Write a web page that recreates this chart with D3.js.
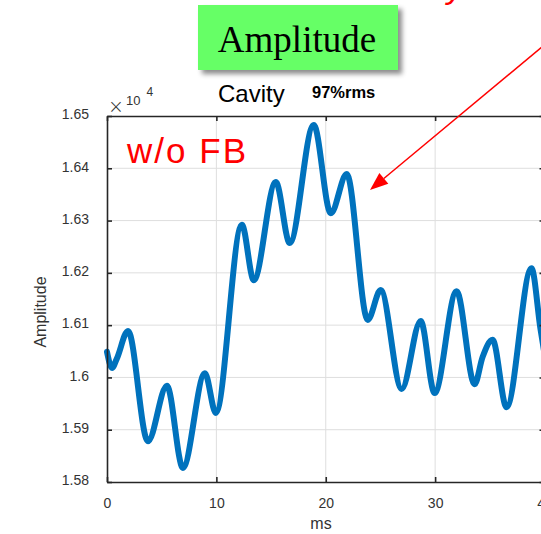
<!DOCTYPE html>
<html>
<head>
<meta charset="utf-8">
<script src="https://cdn.jsdelivr.net/npm/d3@7.9.0/dist/d3.min.js"></script>
<style>
  body { margin: 0; background: #fff; }
  svg { display: block; }
</style>
</head>
<body>
<div id="chart"></div>
<script>
// cavity amplitude trace, w/o feedback
const timeMs = [0, 0.46, 0.9, 1.92, 3.74, 5.48, 6.94, 8.95, 9.95, 12.33, 13.42, 15.43, 16.71,
  18.9, 20.46, 21.92, 23.84, 25.02, 26.94, 28.68, 29.95, 31.96, 33.61, 34.34, 35.25,
  36.53, 38.81, 39.63, 40];
const amplitude = [16049, 16018, 16036, 16089, 15878, 15984, 15827, 16008, 15932, 16292, 16186,
  16374, 16257, 16483, 16314, 16389, 16110, 16167, 15978, 16108, 15970, 16165, 15987,
  16039, 16072, 15943, 16209, 16093, 16045];

const xTicks = [0, 10, 20, 30, 40];
const yTicks = [15800, 15900, 16000, 16100, 16200, 16300, 16400, 16500];

const W = 541, H = 534;
const plot = { left: 107, right: 544.5, top: 116, bottom: 482 };
const axisColor = "#262626";

const svg = d3.select("#chart").append("svg")
  .attr("width", W)
  .attr("height", H);

const defs = svg.append("defs");
const shadow = defs.append("filter").attr("id", "shadow")
  .attr("x", "-10%").attr("y", "-10%").attr("width", "130%").attr("height", "140%");
shadow.append("feDropShadow")
  .attr("dx", 4).attr("dy", 4).attr("stdDeviation", 2.5)
  .attr("flood-color", "#000").attr("flood-opacity", 0.45);

const x = d3.scaleLinear().domain([0, 40]).range([plot.left, plot.right]);
const y = d3.scaleLinear().domain([15800, 16500]).range([plot.bottom, plot.top]);

// grid
const grid = svg.append("g").attr("class", "grid")
  .attr("stroke", "#dedede").attr("stroke-width", 1);
grid.selectAll("line.gx")
  .data(xTicks.slice(1, -1))
  .join("line")
    .attr("class", "gx")
    .attr("x1", d => x(d)).attr("x2", d => x(d))
    .attr("y1", plot.top).attr("y2", plot.bottom);
grid.selectAll("line.gy")
  .data(yTicks.slice(1, -1))
  .join("line")
    .attr("class", "gy")
    .attr("x1", plot.left).attr("x2", plot.right)
    .attr("y1", d => y(d)).attr("y2", d => y(d));

// trace
const line = d3.line()
  .x((d, i) => x(timeMs[i]))
  .y(d => y(d))
  .curve(d3.curveMonotoneX);

svg.append("path")
  .datum(amplitude)
  .attr("fill", "none")
  .attr("stroke", "#0072BD")
  .attr("stroke-width", 6)
  .attr("stroke-linejoin", "round")
  .attr("stroke-linecap", "round")
  .attr("d", line);

// axes (MATLAB-like box with inward ticks)
const fmtY = v => String(+(v / 1e4).toFixed(2));

const yAxisL = d3.axisLeft(y).tickValues(yTicks).tickSizeInner(-5).tickSizeOuter(0)
  .tickFormat(fmtY).tickPadding(18);
const yAxisR = d3.axisRight(y).tickValues(yTicks).tickSizeInner(-5).tickSizeOuter(0)
  .tickFormat("");
const xAxisB = d3.axisBottom(x).tickValues(xTicks).tickSizeInner(-5).tickSizeOuter(0)
  .tickPadding(16);
const xAxisT = d3.axisTop(x).tickValues(xTicks).tickSizeInner(-5).tickSizeOuter(0)
  .tickFormat("");

function styleAxis(g) {
  g.select(".domain").attr("stroke", axisColor).attr("stroke-width", 1.6);
  g.selectAll(".tick line").attr("stroke", axisColor).attr("stroke-width", 1.6);
  g.selectAll(".tick text")
    .attr("fill", "#333")
    .attr("font-family", "'Liberation Sans', Arial, sans-serif")
    .attr("font-size", 14);
}

svg.append("g").attr("transform", `translate(${plot.left},0)`).call(yAxisL).call(styleAxis)
  .selectAll(".tick text").attr("dy", "0.2em");
svg.append("g").attr("transform", `translate(${plot.right},0)`).call(yAxisR).call(styleAxis);
svg.append("g").attr("transform", `translate(0,${plot.bottom})`).call(xAxisB).call(styleAxis);
svg.append("g").attr("transform", `translate(0,${plot.top})`).call(xAxisT).call(styleAxis);

// axis labels
svg.append("text")
  .attr("x", 321).attr("y", 529)
  .attr("text-anchor", "middle")
  .attr("font-family", "'Liberation Sans', Arial, sans-serif")
  .attr("font-size", 16).attr("fill", "#333")
  .text("ms");

svg.append("text")
  .attr("transform", "translate(46,312) rotate(-90)")
  .attr("text-anchor", "middle")
  .attr("font-family", "'Liberation Sans', Arial, sans-serif")
  .attr("font-size", 16).attr("fill", "#333")
  .text("Amplitude");

// exponent  ×10^4
const expo = svg.append("text")
  .attr("x", 108).attr("y", 113)
  .attr("font-family", "'DejaVu Sans', sans-serif")
  .attr("font-weight", 300)
  .attr("fill", "#333");
expo.append("tspan").attr("font-size", 19).text("×");
expo.append("tspan").attr("font-family", "'Liberation Sans', Arial, sans-serif")
  .attr("font-size", 13).attr("dx", 2).attr("dy", -8).text("10");
expo.append("tspan").attr("font-family", "'Liberation Sans', Arial, sans-serif")
  .attr("font-size", 12).attr("dx", 6).attr("dy", -9).text("4");

// titles
svg.append("rect")
  .attr("x", 198).attr("y", 5).attr("width", 200).attr("height", 65)
  .attr("fill", "#66ff66")
  .attr("filter", "url(#shadow)");
svg.append("text")
  .attr("x", 297).attr("y", 52)
  .attr("text-anchor", "middle")
  .attr("font-family", "'Liberation Serif', 'Times New Roman', serif")
  .attr("font-size", 37).attr("fill", "#000")
  .text("Amplitude");

svg.append("text")
  .attr("x", 218).attr("y", 102)
  .attr("font-family", "'Liberation Sans', Arial, sans-serif")
  .attr("font-size", 24).attr("fill", "#000")
  .text("Cavity");
svg.append("text")
  .attr("x", 312).attr("y", 98)
  .attr("font-family", "'Liberation Sans', Arial, sans-serif")
  .attr("font-size", 16.5).attr("font-weight", "bold").attr("fill", "#000")
  .text("97%rms");

svg.append("text")
  .attr("x", 127).attr("y", 163)
  .attr("font-family", "'Liberation Sans', Arial, sans-serif")
  .attr("font-size", 35).attr("fill", "#ff0000")
  .attr("textLength", 119).attr("lengthAdjust", "spacing")
  .text("w/o FB");

// red annotation arrow from off-canvas text
svg.append("text")
  .attr("x", 447).attr("y", -2)
  .attr("font-family", "'Liberation Sans', Arial, sans-serif")
  .attr("font-style", "italic")
  .attr("font-size", 34).attr("fill", "#ff0000")
  .text("y");

const tip = [370, 190];
const tail = [560, 32];
const ang = Math.atan2(tail[1] - tip[1], tail[0] - tip[0]);
const headLen = 18, headHalf = 7;
const bx = tip[0] + headLen * Math.cos(ang), by = tip[1] + headLen * Math.sin(ang);
svg.append("line")
  .attr("x1", tail[0]).attr("y1", tail[1])
  .attr("x2", bx).attr("y2", by)
  .attr("stroke", "#ff0000").attr("stroke-width", 1.5);
svg.append("path")
  .attr("fill", "#ff0000")
  .attr("d", d3.line()([
    tip,
    [bx + headHalf * Math.sin(ang), by - headHalf * Math.cos(ang)],
    [bx - headHalf * Math.sin(ang), by + headHalf * Math.cos(ang)]
  ]));
</script>
</body>
</html>
